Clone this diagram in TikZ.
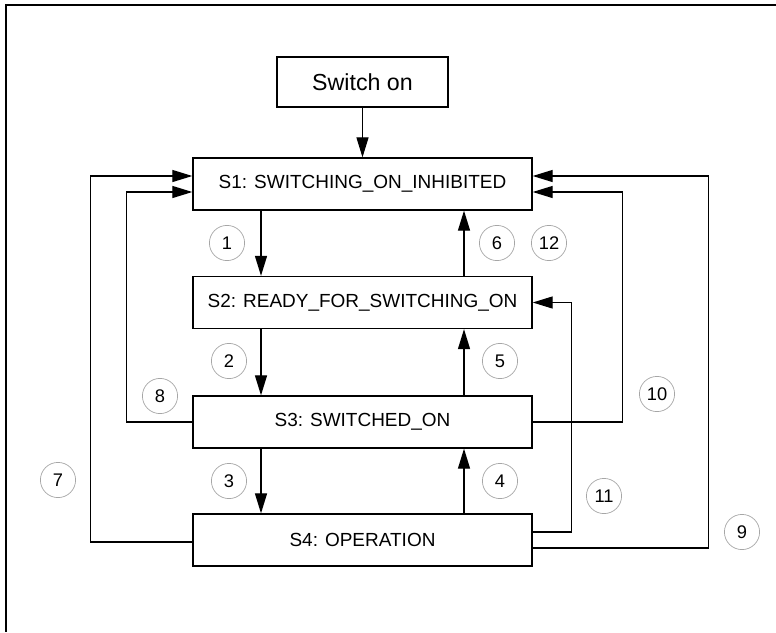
\documentclass[tikz,border=0pt]{standalone}
\usepackage{fontspec}
\setmainfont{Liberation Sans}
\usetikzlibrary{arrows.meta, positioning, calc}

\begin{document}
\begin{tikzpicture}[x=0.025cm, y=-0.025cm,
  state/.style={rectangle, draw, line width=0.9pt, minimum width=8.475cm, minimum height=1.3cm, inner sep=0pt, font=\fontsize{13.5}{16}\selectfont},
  onbox/.style={rectangle, draw, line width=0.9pt, minimum width=4.275cm, minimum height=1.25cm, inner sep=0pt, font=\fontsize{16.5}{19}\selectfont},
  trans/.style={draw, line width=0.9pt, -{Triangle[length=0.5cm, width=0.3cm]}},
  num/.style={circle, draw=black!35, line width=0.5pt, minimum size=0.88cm, inner sep=0pt, font=\fontsize{13}{15}\selectfont}
]
\useasboundingbox (0,0) rectangle (776,632);
\draw[line width=1.5pt] (776,5) -| (6,632);

\node[onbox] (on) at (362.5,82)    {Switch on\hspace{0.45cm}};
\node[state] (s1) at (362.5,184)   {S1: SWITCHING\_ON\_INHIBITED};
\node[state] (s2) at (362.5,302.5) {S2: READY\_FOR\_SWITCHING\_ON};
\node[state] (s3) at (362.5,422)   {S3: SWITCHED\_ON};
\node[state] (s4) at (362.5,540)   {S4: OPERATION};

\node[num] (n1)  at (227,243) {1};
\node[num] (n6)  at (497,243) {6};
\node[num] (n12) at (549,243) {12};
\node[num] (n2)  at (229,361) {2};
\node[num] (n5)  at (500,361) {5};
\node[num] (n3)  at (229,481) {3};
\node[num] (n4)  at (500,481) {4};
\node[num] (n8)  at (160,396) {8};
\node[num] (n7)  at (58,480)  {7};
\node[num] (n10) at (657,394) {10};
\node[num] (n9)  at (742,532) {9};
\node[num] (n11) at (604,496) {11};

\draw[trans] (on) -- (s1);
\draw[trans] ($(s1.south)+(-101.5,0)$) -- ($(s2.north)+(-101.5,0)$);
\draw[trans] ($(s2.north)+(101.5,0)$) -- ($(s1.south)+(101.5,0)$);
\draw[trans] ($(s2.south)+(-101.5,0)$) -- ($(s3.north)+(-101.5,0)$);
\draw[trans] ($(s3.north)+(101.5,0)$) -- ($(s2.south)+(101.5,0)$);
\draw[trans] ($(s3.south)+(-101.5,0)$) -- ($(s4.north)+(-101.5,0)$);
\draw[trans] ($(s4.north)+(101.5,0)$) -- ($(s3.south)+(101.5,0)$);

\draw[trans] (s3.west) -- ++(-66,0) |- ($(s1.west)+(0,8)$);
\draw[trans] ($(s4.west)+(0,2)$) -- ++(-102,0) |- ($(s1.west)+(0,-8)$);
\draw[trans] (s3.east) -- ++(90,0) |- ($(s1.east)+(0,8)$);
\draw[trans] ($(s4.east)+(0,8)$) -- ++(176,0) |- ($(s1.east)+(0,-8)$);
\draw[trans] ($(s4.east)+(0,-8)$) -- ++(39,0) |- (s2.east);
\end{tikzpicture}
\end{document}
